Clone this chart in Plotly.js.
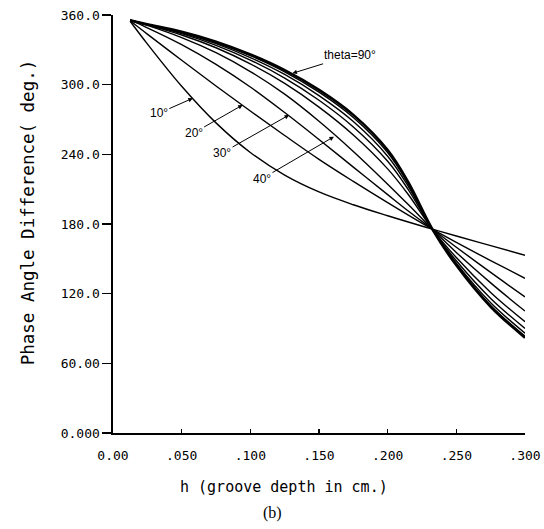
<!DOCTYPE html>
<html>
<head>
<meta charset="utf-8">
<script src="https://cdn.plot.ly/plotly-3.0.1.min.js"></script>
<style>html,body{margin:0;padding:0;background:#fff;}#chart{width:544px;height:529px;}</style>
</head>
<body>
<div id="chart"></div>
<script>
// groove depth h (cm)
const depth = [0.0125, 0.025, 0.05, 0.075, 0.1, 0.125, 0.15, 0.175, 0.2, 0.215, 0.2325, 0.25, 0.275, 0.3];

// phase angle difference (deg.) for each theta
const theta10 = [354.6, 335.1, 298.6, 267.1, 241.6, 222.1, 207.6, 196.6, 187.1, 181.7, 175.6, 169.7, 161.4, 153.1];
const theta20 = [355.0, 343.5, 321.0, 298.9, 277.3, 256.2, 235.7, 216.7, 198.4, 187.7, 175.6, 164.2, 148.5, 133.2];
const theta30 = [355.5, 349.0, 334.5, 317.5, 298.0, 276.0, 252.8, 229.0, 205.3, 191.2, 175.6, 160.0, 138.3, 117.2];
const theta40 = [355.5, 351.0, 340.5, 327.5, 311.3, 291.8, 268.5, 242.5, 214.3, 196.7, 175.6, 155.5, 129.3, 105.0];
const theta50 = [355.5, 351.5, 342.8, 331.8, 317.9, 301.1, 280.7, 256.7, 227.5, 205.4, 175.6, 151.1, 121.1, 95.8];
const theta60 = [355.5, 351.7, 343.9, 333.9, 321.2, 305.7, 286.6, 263.6, 234.0, 209.6, 175.6, 148.3, 115.9, 90.1];
const theta70 = [355.5, 351.8, 344.6, 335.3, 323.3, 308.8, 290.6, 268.3, 238.4, 212.5, 175.6, 146.3, 112.2, 86.0];
const theta80 = [355.5, 351.9, 345.2, 336.3, 325.0, 311.1, 293.6, 271.8, 241.6, 214.6, 175.6, 145.1, 109.9, 83.5];
const theta90 = [355.5, 352.0, 345.5, 337.0, 326.0, 312.5, 295.5, 274.0, 243.7, 216.0, 175.6, 144.4, 108.7, 82.1];

const seriesNames = ["10°", "20°", "30°", "40°", "50°", "60°", "70°", "80°", "theta=90°"];
const seriesValues = [theta10, theta20, theta30, theta40, theta50, theta60, theta70, theta80, theta90];

// axis ticks
const xTickVals = [0, 0.05, 0.1, 0.15, 0.2, 0.25, 0.3];
const xTickText = ["0.00", ".050", ".100", ".150", ".200", ".250", ".300"];
const yTickVals = [0, 60, 120, 180, 240, 300, 360];
const yTickText = ["0.000", "60.00", "120.0", "180.0", "240.0", "300.0", "360.0"];

// curve labels: text and arrow tip (h, deg)
const labelText = ["10°", "20°", "30°", "40°", "theta=90°"];
const labelTipX = [0.0581, 0.0944, 0.1282, 0.1609, 0.1307];
const labelTipY = [288.3, 282.5, 273.9, 255.2, 309.8];

const traces = seriesValues.map((vals, i) => ({
  type: "scatter",
  mode: "lines",
  name: seriesNames[i],
  x: depth,
  y: vals,
  line: {color: "#000", width: i === 8 ? 2.6 : 1.4, shape: "spline", smoothing: 1},
  hoverinfo: "skip"
}));

const labelOffsets = [[-34, 15], [-49, 28], [-67, 38], [-72, 42], [58, -18]];
const labelFont = {family: "Liberation Sans, Arial, sans-serif", size: 12, color: "#000"};
const monoFont = "DejaVu Sans Mono, monospace";

const annotations = labelText.map((t, i) => ({
  x: labelTipX[i], y: labelTipY[i], xref: "x", yref: "y",
  text: t, showarrow: true, arrowhead: 2, arrowsize: 0.9, arrowwidth: 1,
  arrowcolor: "#000", ax: labelOffsets[i][0], ay: labelOffsets[i][1],
  font: labelFont, standoff: 0
}));
// axis titles (placed as in the original figure)
annotations.push({
  xref: "paper", yref: "paper", x: -0.2073, y: 0.527, xanchor: "center", yanchor: "middle",
  textangle: -90, text: "Phase Angle Difference( deg.)", showarrow: false,
  font: {family: monoFont, size: 17.5, color: "#000"}
});
annotations.push({
  xref: "paper", yref: "paper", x: 0.4158, y: -0.13, xanchor: "center", yanchor: "middle",
  text: "h (groove depth in cm.)", showarrow: false,
  font: {family: monoFont, size: 15, color: "#000"}
});
annotations.push({
  xref: "paper", yref: "paper", x: 0.388, y: -0.192, xanchor: "center", yanchor: "middle",
  text: "(b)", showarrow: false,
  font: {family: "Liberation Serif, Times New Roman, serif", size: 16, color: "#000"}
});

const layout = {
  width: 544, height: 529,
  margin: {l: 112.5, r: 19, t: 15, b: 96.3},
  paper_bgcolor: "#fff", plot_bgcolor: "#fff",
  showlegend: false,
  xaxis: {
    range: [0, 0.3], tickvals: xTickVals, ticktext: xTickText,
    ticks: "inside", ticklen: 4, tickwidth: 1.3, tickcolor: "#000",
    showline: true, linecolor: "#000", linewidth: 1.6, showgrid: false, zeroline: false,
    tickfont: {family: monoFont, size: 13, color: "#000"},
    ticklabelstandoff: 10
  },
  yaxis: {
    range: [0, 360], tickvals: yTickVals, ticktext: yTickText,
    ticks: "outside", ticklen: 9, tickwidth: 1.3, tickcolor: "#000",
    showline: true, linecolor: "#000", linewidth: 1.6, showgrid: false, zeroline: false,
    tickfont: {family: monoFont, size: 13, color: "#000"}
  },
  annotations: annotations
};

Plotly.newPlot("chart", traces, layout, {displayModeBar: false, staticPlot: true});
</script>
</body>
</html>
